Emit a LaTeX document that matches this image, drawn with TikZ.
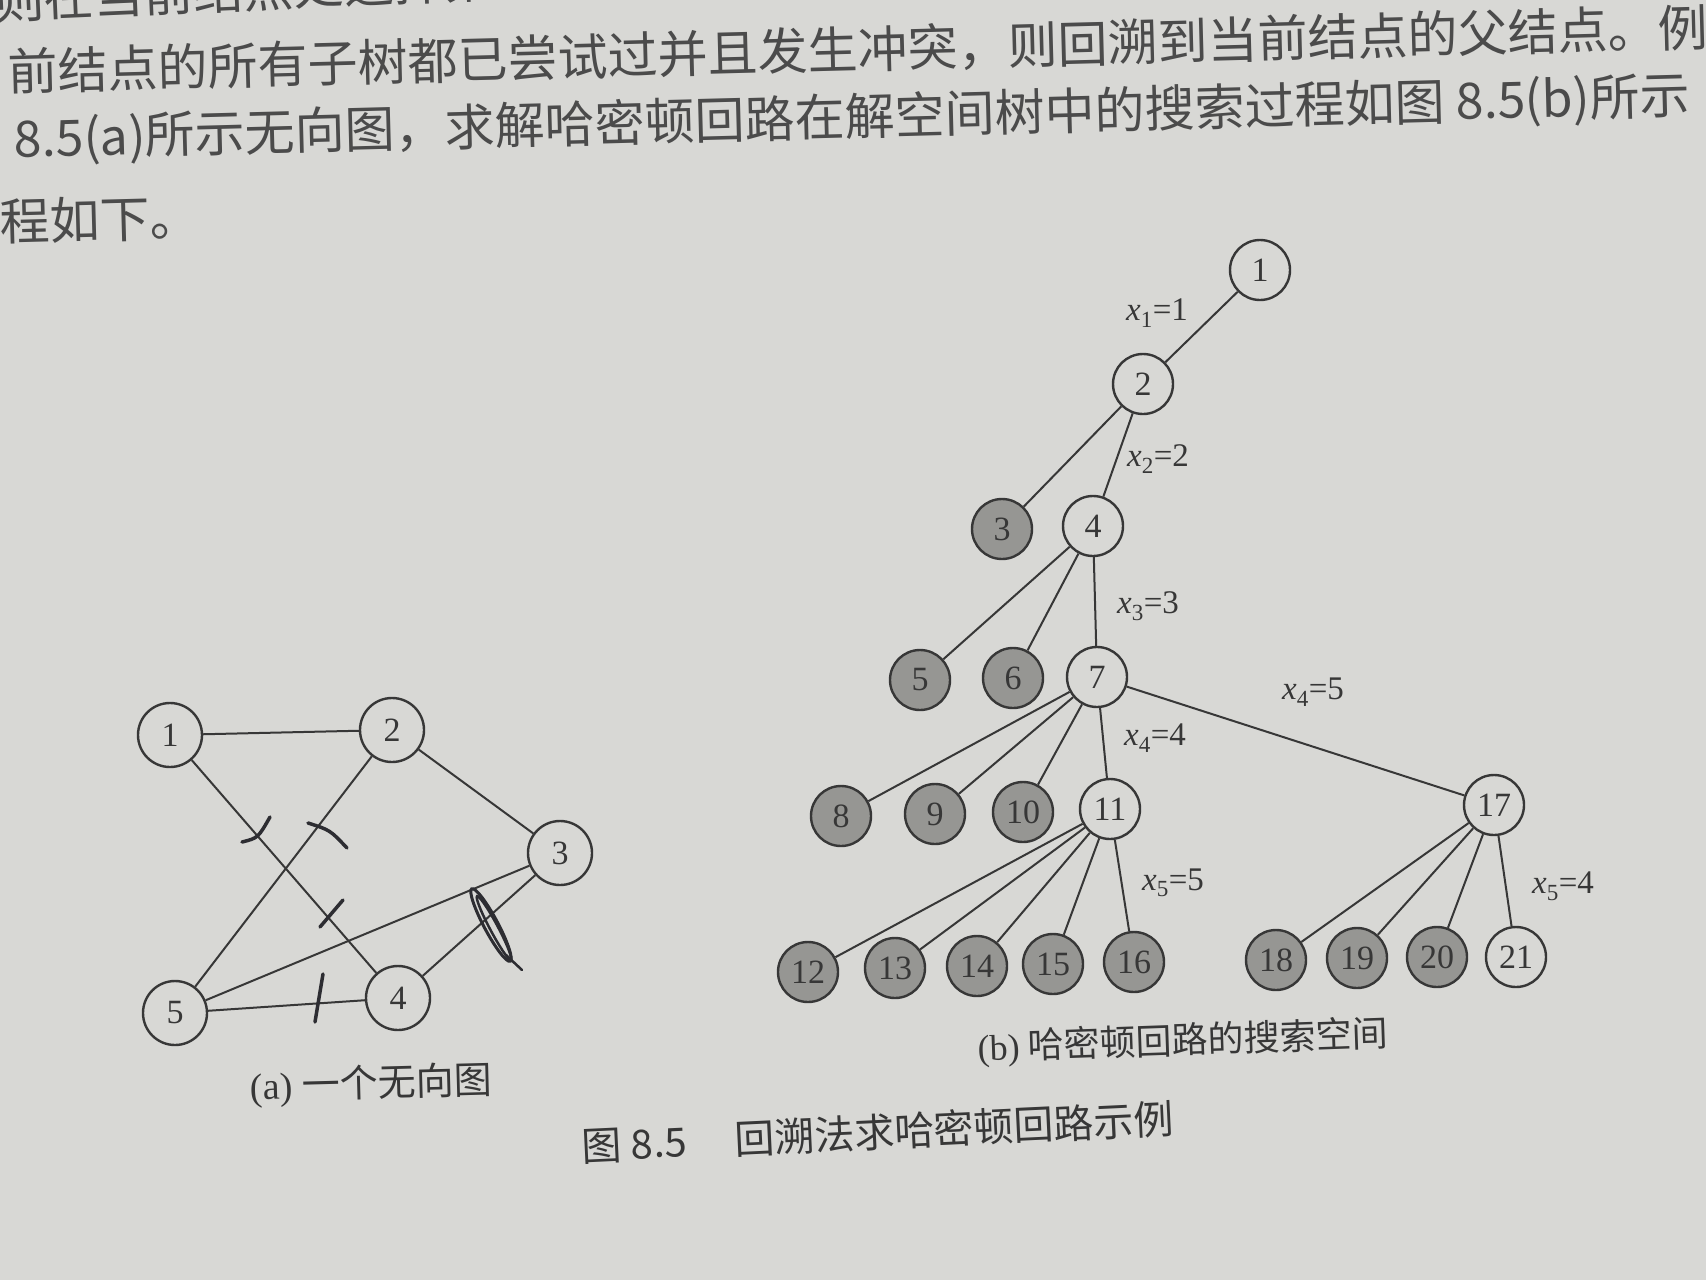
\documentclass[tikz,border=0pt]{standalone}
\usepackage{fontspec}
\setmainfont{Liberation Serif}
\newfontfamily\cjk{Noto Sans CJK SC}
\definecolor{paper}{RGB}{216,216,213}
\definecolor{ink}{RGB}{55,55,55}
\definecolor{deadgray}{RGB}{150,150,147}
\definecolor{pen}{RGB}{45,45,50}
\newcommand{\xlab}[2]{\textit{x}\textsubscript{#1}=#2}

\begin{document}
\begin{tikzpicture}[x=1pt, y=-1pt,
  vtx/.style={circle, draw=ink, line width=2.4pt, minimum size=64pt, inner sep=0pt,
    font=\fontsize{34}{34}\selectfont, text=ink},
  tnode/.style={vtx, minimum size=60pt},
  dead/.style={tnode, fill=deadgray},
  link/.style={draw=ink, line width=2pt},
  lbl/.style={font=\fontsize{33}{33}\selectfont, text=ink},
  para/.style={font=\cjk\fontsize{50}{50}\selectfont, text=ink!90, anchor=west, rotate=1.5, inner sep=0pt},
  capt/.style={font=\fontsize{36}{36}\selectfont, text=ink, inner sep=0pt},
  hand/.style={draw=pen, line width=3.5pt, line cap=round}]

\path[use as bounding box, fill=paper] (0,0) rectangle (1706,1280);
\clip (0,0) rectangle (1706,1280);

\node[para, rotate=1] (line1) at (-6,0) {则在当前结点处选择第一棵子树继续搜索};
\node[para] (line2) at (8,72) {前结点的所有子树都已尝试过并且发生冲突，则回溯到当前结点的父结点。例如};
\node[para] (line3) at (14,141) {8.5(a)所示无向图，求解哈密顿回路在解空间树中的搜索过程如图 8.5(b)所示};
\node[para] (line4) at (-50,223) {过程如下。};

\node[vtx] (g1) at (170,735) {1};
\node[vtx] (g2) at (392,730) {2};
\node[vtx] (g3) at (560,853) {3};
\node[vtx] (g4) at (398,998) {4};
\node[vtx] (g5) at (175,1013) {5};

\draw[link] (g1) -- (g2);
\draw[link] (g1) -- (g4);
\draw[link] (g2) -- (g3);
\draw[link] (g2) -- (g5);
\draw[link] (g3) -- (g5);
\draw[link] (g3) -- (g4);
\draw[link] (g5) -- (g4);

\draw[hand] (242,842) .. controls (258,838) .. (270,817);
\draw[hand] (308,823) .. controls (330,830) .. (347,848);
\draw[hand] (320,927) -- (343,900);
\draw[hand] (323,974) -- (315,1022);
\draw[hand, line width=3pt, rotate around={-62:(491,925)}] (491,925) ellipse (41 and 7);
\draw[hand, line width=2.5pt, rotate around={-62:(494,928)}] (494,928) ellipse (36 and 4);
\draw[hand, line width=2.5pt] (506,955) -- (522,970);

\node[capt, font=\fontsize{38}{38}\selectfont] (capa) at (371,1085) [rotate=1.5] {(a) {\cjk 一个无向图}};

\node[tnode] (t1) at (1260,270) {1};
\node[tnode] (t2) at (1143,384) {2};
\node[dead] (t3) at (1002,529) {3};
\node[tnode] (t4) at (1093,526) {4};
\node[dead] (t5) at (920,680) {5};
\node[dead] (t6) at (1013,678) {6};
\node[tnode] (t7) at (1097,677) {7};
\node[dead] (t8) at (841,816) {8};
\node[dead] (t9) at (935,814) {9};
\node[dead] (t10) at (1023,812) {10};
\node[tnode] (t11) at (1110,809) {11};
\node[tnode] (t17) at (1494,805) {17};
\node[dead] (t12) at (808,972) {12};
\node[dead] (t13) at (895,968) {13};
\node[dead] (t14) at (977,966) {14};
\node[dead] (t15) at (1053,964) {15};
\node[dead] (t16) at (1134,962) {16};
\node[dead] (t18) at (1276,960) {18};
\node[dead] (t19) at (1357,958) {19};
\node[dead] (t20) at (1437,957) {20};
\node[tnode] (t21) at (1516,957) {21};

\draw[link] (t1) -- (t2);
\draw[link] (t2) -- (t3);
\draw[link] (t2) -- (t4);
\draw[link] (t4) -- (t5);
\draw[link] (t4) -- (t6);
\draw[link] (t4) -- (t7);
\draw[link] (t7) -- (t8);
\draw[link] (t7) -- (t9);
\draw[link] (t7) -- (t10);
\draw[link] (t7) -- (t11);
\draw[link] (t7) -- (t17);
\draw[link] (t11) -- (t12);
\draw[link] (t11) -- (t13);
\draw[link] (t11) -- (t14);
\draw[link] (t11) -- (t15);
\draw[link] (t11) -- (t16);
\draw[link] (t17) -- (t18);
\draw[link] (t17) -- (t19);
\draw[link] (t17) -- (t20);
\draw[link] (t17) -- (t21);

\node[lbl] (lx1) at (1157,313) {\xlab{1}{1}};
\node[lbl] (lx2) at (1158,459) {\xlab{2}{2}};
\node[lbl] (lx3) at (1148,606) {\xlab{3}{3}};
\node[lbl] (lx45) at (1313,692) {\xlab{4}{5}};
\node[lbl] (lx44) at (1155,738) {\xlab{4}{4}};
\node[lbl] (lx55) at (1173,883) {\xlab{5}{5}};
\node[lbl] (lx54) at (1563,886) {\xlab{5}{4}};

\node[capt] (capb) at (1183,1042) [rotate=2] {(b) {\cjk 哈密顿回路的搜索空间}};
\node[capt, anchor=west, font=\cjk\fontsize{40}{40}\selectfont, rotate=2.7] (capmain) at (582,1146)
  {图 8.5\hspace{48pt}回溯法求哈密顿回路示例};

\end{tikzpicture}
\end{document}
